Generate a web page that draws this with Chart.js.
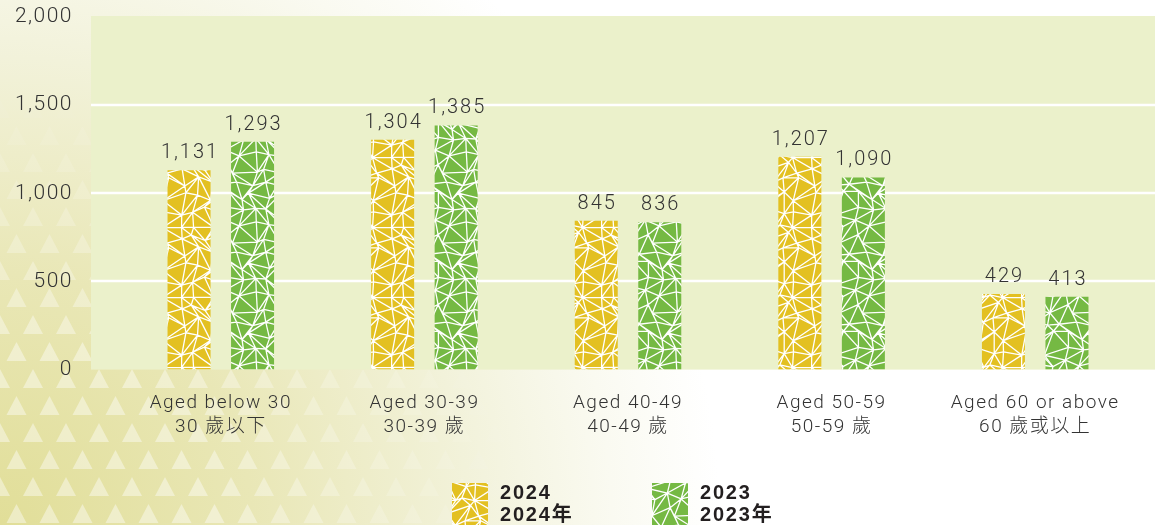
<!DOCTYPE html>
<html>
<head>
<meta charset="utf-8">
<script src="https://cdn.jsdelivr.net/npm/chart.js@4.4.0/dist/chart.umd.min.js"></script>
<style>
  html, body { margin: 0; padding: 0; background: #fff; }
  #wrap { position: relative; width: 1155px; height: 525px; overflow: hidden; }
  #wrap canvas#chart { position: absolute; left: 0; top: 0; }
  .legend-item { position: absolute; top: 483px; height: 42px; }
  .legend-item canvas { position: absolute; left: 0; top: 0; }
  .legend-item .txt {
    position: absolute; left: 48px; top: -2px; white-space: nowrap;
    font: bold 20px "Liberation Sans", Arial, "Noto Sans CJK TC", sans-serif;
    line-height: 22px; letter-spacing: 1.8px; color: #231f20;
  }
</style>
</head>
<body>
<div id="wrap">
  <canvas id="chart" width="1155" height="525"></canvas>
  <div class="legend-item" id="leg0" style="left:452px"><canvas width="36" height="42"></canvas><div class="txt"></div></div>
  <div class="legend-item" id="leg1" style="left:652px"><canvas width="36" height="42"></canvas><div class="txt"></div></div>
</div>
<script>
// Datos del gráfico
const categories = [
    ["Aged below 30", "30 歲以下"],
    ["Aged 30-39", "30-39 歲"],
    ["Aged 40-49", "40-49 歲"],
    ["Aged 50-59", "50-59 歲"],
    ["Aged 60 or above", "60 歲或以上"]
];
const values2024 = [1131, 1304, 845, 1207, 429];
const values2023 = [1293, 1385, 836, 1090, 413];
const yTicks = [0, 500, 1000, 1500, 2000];
const seriesNames = [["2024", "2024年"], ["2023", "2023年"]];

const YELLOW = "#e3c021";
const GREEN = "#75b943";
const PLOT_BG = "#ebf1cb";
const PLOT_LEFT = 91;
const TEXT_FONT = 'Roboto, "Noto Sans CJK TC", sans-serif';

// pequeño generador determinista para la malla decorativa de las barras
function seeded(seed) {
    let s = seed;
    return function() {
        s = (s * 16807) % 2147483647;
        return (s - 1) / 2147483646;
    };
}

// textura de triángulos blancos (solo decoración)
function makeMeshCanvas(color, seed) {
    const n = 5, cell = 14, size = n * cell;
    const c = document.createElement("canvas");
    c.width = size; c.height = size;
    const ctx = c.getContext("2d");
    ctx.fillStyle = color;
    ctx.fillRect(0, 0, size, size);
    const rnd = seeded(seed);
    const pts = [];
    for (let i = 0; i < n; i++) {
        pts.push([]);
        for (let j = 0; j < n; j++) {
            pts[i].push([i * cell + (rnd() - 0.5) * cell * 0.8, j * cell + (rnd() - 0.5) * cell * 0.8]);
        }
    }
    const diag = [];
    for (let i = 0; i < n; i++) { diag.push([]); for (let j = 0; j < n; j++) diag[i].push(rnd() > 0.5); }
    function P(i, j) {
        const ii = ((i % n) + n) % n, jj = ((j % n) + n) % n;
        const p = pts[ii][jj];
        return [p[0] + Math.floor(i / n) * size, p[1] + Math.floor(j / n) * size];
    }
    ctx.strokeStyle = "#ffffff";
    ctx.lineWidth = 1.3;
    for (let ox = -1; ox <= 1; ox++) {
        for (let oy = -1; oy <= 1; oy++) {
            ctx.save();
            ctx.translate(ox * size, oy * size);
            ctx.beginPath();
            for (let i = 0; i < n; i++) {
                for (let j = 0; j < n; j++) {
                    const a = P(i, j), b = P(i + 1, j), d = P(i, j + 1), e = P(i + 1, j + 1);
                    ctx.moveTo(a[0], a[1]); ctx.lineTo(b[0], b[1]);
                    ctx.moveTo(a[0], a[1]); ctx.lineTo(d[0], d[1]);
                    if (diag[i][j]) { ctx.moveTo(a[0], a[1]); ctx.lineTo(e[0], e[1]); }
                    else { ctx.moveTo(b[0], b[1]); ctx.lineTo(d[0], d[1]); }
                }
            }
            ctx.stroke();
            ctx.restore();
        }
    }
    return c;
}

const chartCanvas = document.getElementById("chart");
const chartCtx = chartCanvas.getContext("2d");
const meshYellow = makeMeshCanvas(YELLOW, 17);
const meshGreen = makeMeshCanvas(GREEN, 91);
const patYellow = chartCtx.createPattern(meshYellow, "repeat");
const patGreen = chartCtx.createPattern(meshGreen, "repeat");

// fondo de la página + área del gráfico + líneas de la cuadrícula
const backgroundPlugin = {
    id: "bgPlugin",
    beforeDraw(chart) {
        const ctx = chart.ctx;
        const w = chart.width, h = chart.height;
        ctx.save();
        ctx.fillStyle = "#ffffff";
        ctx.fillRect(0, 0, w, h);
        const g = ctx.createRadialGradient(0, h, 0, 0, h, 720);
        g.addColorStop(0, "#e1de98");
        g.addColorStop(0.35, "#e9e7b6");
        g.addColorStop(0.65, "#f2f2da");
        g.addColorStop(0.85, "#fafaf1");
        g.addColorStop(1, "#ffffff");
        ctx.fillStyle = g;
        ctx.fillRect(0, 0, w, h);
        // triángulos decorativos
        const dx = 33, dy = 27;
        for (let r = 0; r * dy < h + dy; r++) {
            for (let k = -1; k * dx < w; k++) {
                const cx = k * dx + (r % 2 ? dx / 2 : 0);
                const by = r * dy + 10;
                const d = Math.hypot(cx * 0.9, (h - by) * 1.1);
                const a = Math.max(0, Math.min(0.42, (1 - d / 480) * 0.7));
                if (a <= 0.01) continue;
                ctx.fillStyle = "rgba(255,255,255," + a.toFixed(3) + ")";
                ctx.beginPath();
                ctx.moveTo(cx - 10, by);
                ctx.lineTo(cx + 10, by);
                ctx.lineTo(cx, by - 19);
                ctx.closePath();
                ctx.fill();
            }
        }
        const y = chart.scales.y;
        const top = y.getPixelForValue(2000) - 1;
        const bottom = y.getPixelForValue(0);
        ctx.fillStyle = PLOT_BG;
        ctx.fillRect(PLOT_LEFT, top, w - PLOT_LEFT, bottom - top);
        ctx.strokeStyle = "#ffffff";
        ctx.lineWidth = 2.5;
        yTicks.forEach(v => {
            if (v === 0 || v === 2000) return;
            const py = Math.round(y.getPixelForValue(v));
            ctx.beginPath();
            ctx.moveTo(PLOT_LEFT, py);
            ctx.lineTo(w, py);
            ctx.stroke();
        });
        ctx.restore();
        ctx.letterSpacing = "1.5px";
    }
};

// etiquetas de valor encima de cada barra
const valueLabelPlugin = {
    id: "valueLabels",
    afterDatasetsDraw(chart) {
        const ctx = chart.ctx;
        ctx.save();
        ctx.letterSpacing = "2px";
        ctx.font = "300 20px " + TEXT_FONT;
        ctx.fillStyle = "#333333";
        ctx.textAlign = "center";
        ctx.textBaseline = "alphabetic";
        chart.data.datasets.forEach((ds, di) => {
            chart.getDatasetMeta(di).data.forEach((bar, i) => {
                ctx.fillText(ds.data[i].toLocaleString("en-US"), bar.x + 1, bar.y - 12);
            });
        });
        ctx.restore();
    }
};

new Chart(chartCtx, {
    type: "bar",
    data: {
        labels: categories,
        datasets: [
            { label: seriesNames[0].join(" "), data: values2024, backgroundColor: patYellow, borderWidth: 0 },
            { label: seriesNames[1].join(" "), data: values2023, backgroundColor: patGreen, borderWidth: 0 }
        ]
    },
    options: {
        responsive: false,
        animation: false,
        devicePixelRatio: 1,
        categoryPercentage: 0.624,
        barPercentage: 0.677,
        layout: { padding: { left: 0, right: 18, top: 17, bottom: 64 } },
        plugins: {
            legend: { display: false },
            tooltip: { enabled: false }
        },
        scales: {
            x: {
                grid: { display: false, drawTicks: false },
                border: { display: false },
                ticks: {
                    color: "#333333",
                    font: { family: TEXT_FONT, size: 19, weight: "300", lineHeight: 1.3 },
                    padding: 21,
                    maxRotation: 0,
                    autoSkip: false
                }
            },
            y: {
                min: 0,
                max: 2000,
                grid: { display: false, drawTicks: false },
                border: { display: false },
                afterBuildTicks(scale) { scale.ticks = yTicks.map(v => ({ value: v })); },
                ticks: {
                    color: "#333333",
                    font: { family: TEXT_FONT, size: 21, weight: "300" },
                    padding: 46,
                    callback: v => v.toLocaleString("en-US")
                },
                afterFit(scale) {
                    scale.width = 119;
                    scale.paddingTop = 0;
                    scale.paddingBottom = 0;
                }
            }
        }
    },
    plugins: [backgroundPlugin, valueLabelPlugin]
});

// leyenda en HTML con la misma textura
[meshYellow, meshGreen].forEach((mesh, i) => {
    const item = document.getElementById("leg" + i);
    const sw = item.querySelector("canvas").getContext("2d");
    sw.fillStyle = sw.createPattern(mesh, "repeat");
    sw.fillRect(0, 0, 36, 42);
    item.querySelector(".txt").innerHTML = seriesNames[i].join("<br>");
});
</script>
</body>
</html>
